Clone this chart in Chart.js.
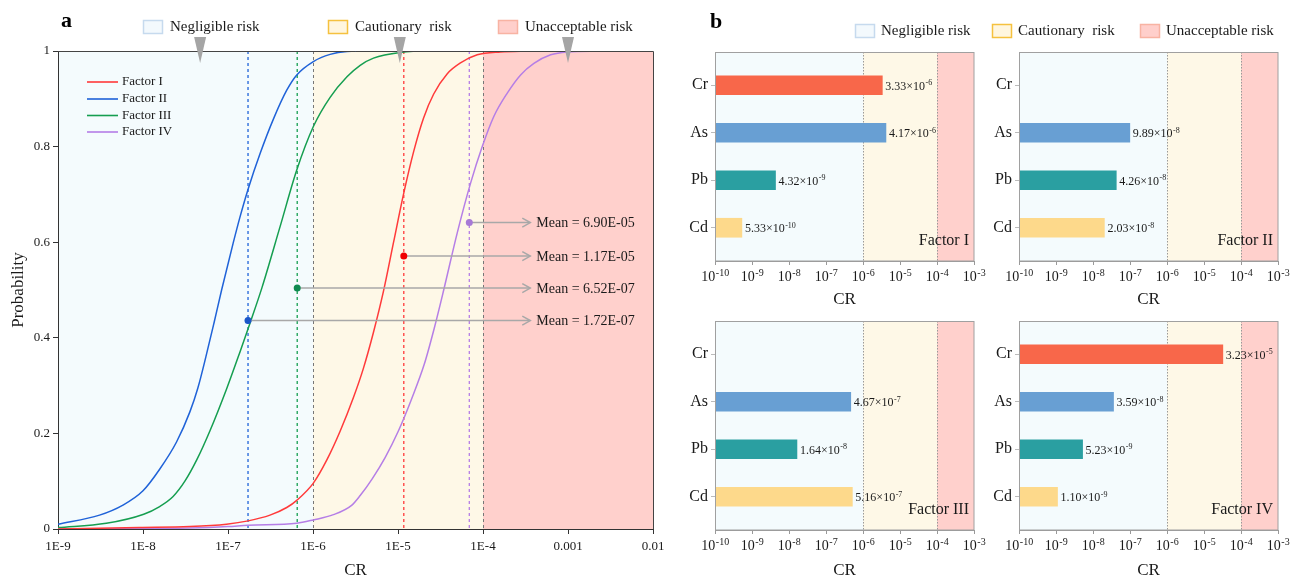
<!DOCTYPE html>
<html><head><meta charset="utf-8">
<script src="https://cdn.jsdelivr.net/npm/chart.js@4.4.1/dist/chart.umd.min.js"></script>
<style>
html,body{margin:0;padding:0;background:#fff;}
#wrap{position:relative;width:1293px;height:581px;overflow:hidden;background:#fff;}
canvas{position:absolute;}
</style></head><body>
<div id="wrap">
<canvas id="ca" width="1293" height="581" style="left:0;top:0"></canvas>
<canvas id="b1" width="360" height="285" style="left:640px;top:25px"></canvas>
<canvas id="b2" width="333" height="285" style="left:960px;top:25px"></canvas>
<canvas id="b3" width="360" height="281" style="left:640px;top:300px"></canvas>
<canvas id="b4" width="333" height="281" style="left:960px;top:300px"></canvas>
</div>
<script>
// ---------- DATA ----------
const factorNames = ['Factor I', 'Factor II', 'Factor III', 'Factor IV'];
// Panel a: cumulative probability curves (CR value, probability)
const f1CR = [1.0e-9, 9.1e-9, 3.56e-8, 9.6e-8, 1.73e-7, 3.12e-7, 4.91e-7, 6.44e-7, 1.01e-6, 1.46e-6, 2.09e-6, 2.99e-6, 3.9e-6, 5.12e-6, 6.76e-6, 8.87e-6, 1.16e-5, 1.53e-5, 2.0e-5, 2.63e-5, 3.78e-5, 5.43e-5, 8.55e-5, 1.61e-4, 3.63e-4];
const f1P  = [0.000, 0.003, 0.005, 0.010, 0.017, 0.029, 0.045, 0.060, 0.096, 0.145, 0.205, 0.275, 0.335, 0.410, 0.498, 0.600, 0.700, 0.790, 0.860, 0.910, 0.952, 0.975, 0.992, 0.998, 1.000];
const f2CR = [1.0e-9, 3.08e-9, 5.81e-9, 1.0e-8, 1.57e-8, 2.48e-8, 3.56e-8, 4.42e-8, 5.49e-8, 6.82e-8, 8.41e-8, 1.15e-7, 1.38e-7, 1.73e-7, 2.38e-7, 3.41e-7, 4.91e-7, 6.44e-7, 1.01e-6, 1.59e-6, 2.51e-6, 4.71e-6, 1.0e-5];
const f2P  = [0.010, 0.029, 0.050, 0.080, 0.125, 0.182, 0.245, 0.295, 0.360, 0.430, 0.500, 0.598, 0.652, 0.712, 0.785, 0.857, 0.918, 0.950, 0.978, 0.993, 0.999, 1.000, 1.000];
const f3CR = [1.0e-9, 3.7e-9, 1.02e-8, 1.57e-8, 2.26e-8, 3.11e-8, 4.3e-8, 6.12e-8, 9.62e-8, 1.38e-7, 1.81e-7, 2.51e-7, 4.09e-7, 6.44e-7, 1.01e-6, 1.59e-6, 2.51e-6, 3.59e-6, 5.15e-6, 1.06e-5, 2.4e-5, 1.0e-4];
const f3P  = [0.003, 0.012, 0.031, 0.047, 0.068, 0.100, 0.145, 0.205, 0.293, 0.370, 0.430, 0.505, 0.632, 0.751, 0.842, 0.903, 0.946, 0.970, 0.985, 0.997, 1.000, 1.000];
const f4CR = [1.0e-9, 3.56e-8, 9.98e-8, 1.73e-7, 6.44e-7, 1.01e-6, 1.74e-6, 2.87e-6, 3.59e-6, 4.97e-6, 7.08e-6, 1.01e-5, 1.43e-5, 2.04e-5, 2.67e-5, 3.45e-5, 4.97e-5, 7.13e-5, 9.8e-5, 1.34e-4, 1.93e-4, 2.77e-4, 3.97e-4, 6.25e-4, 9.84e-4, 2.43e-3];
const f4P  = [0.000, 0.002, 0.005, 0.008, 0.012, 0.019, 0.030, 0.050, 0.070, 0.105, 0.150, 0.205, 0.270, 0.345, 0.420, 0.500, 0.619, 0.723, 0.800, 0.863, 0.912, 0.950, 0.974, 0.992, 0.998, 1.000];
const meanCR = [1.17e-5, 1.72e-7, 6.52e-7, 6.90e-5];
const meanText = ['Mean = 1.17E-05', 'Mean = 1.72E-07', 'Mean = 6.52E-07', 'Mean = 6.90E-05'];
const meanMarkP = [0.571, 0.436, 0.504, 0.641];
const xTicksA = [1e-9, 1e-8, 1e-7, 1e-6, 1e-5, 1e-4, 1e-3, 1e-2];
const xTickLabelsA = ['1E-9', '1E-8', '1E-7', '1E-6', '1E-5', '1E-4', '0.001', '0.01'];
const riskBounds = [1e-6, 1e-4];
const riskNames = ['Negligible risk', 'Cautionary  risk', 'Unacceptable risk'];
// Panel b: CR per element and factor
const elements = ['Cr', 'As', 'Pb', 'Cd'];
const crFactorI   = [3.33e-6, 4.17e-6, 4.32e-9, 5.33e-10];
const crFactorII  = [null, 9.89e-8, 4.26e-8, 2.03e-8];
const crFactorIII = [null, 4.67e-7, 1.64e-8, 5.16e-7];
const crFactorIV  = [3.23e-5, 3.59e-8, 5.23e-9, 1.10e-9];
const xTicksB = [1e-10, 1e-9, 1e-8, 1e-7, 1e-6, 1e-5, 1e-4, 1e-3];

// ---------- STYLE ----------
const F = '"Liberation Serif", "Times New Roman", serif';
const TXT = '#1a1a1a';
const factorColors = ['#FF3A3A', '#1F62D8', '#159E50', '#B57EE6'];
const dotColors = ['#F00000', '#1A56C8', '#0E8A50', '#A77AD6'];
const bandColors = ['#F4FBFD', '#FEF8E7', '#FFD0CC'];
const swatchStroke = ['#C6DAEE', '#F5C13F', '#F8B3A3'];
const swatchFill = ['#F3F9FD', '#FFF6DF', '#FFCFCB'];
const elementColors = ['#F8674A', '#689FD3', '#2A9FA1', '#FDD98B'];

function fillBands(chart) {
  const {ctx, chartArea: a, scales: {x}} = chart;
  const x1 = x.getPixelForValue(riskBounds[0]), x2 = x.getPixelForValue(riskBounds[1]);
  ctx.save();
  ctx.fillStyle = bandColors[0]; ctx.fillRect(a.left, a.top, x1 - a.left, a.bottom - a.top);
  ctx.fillStyle = bandColors[1]; ctx.fillRect(x1, a.top, x2 - x1, a.bottom - a.top);
  ctx.fillStyle = bandColors[2]; ctx.fillRect(x2, a.top, a.right - x2, a.bottom - a.top);
  ctx.restore();
}
function vline(ctx, x, y1, y2) { ctx.beginPath(); ctx.moveTo(x, y1); ctx.lineTo(x, y2); ctx.stroke(); }
function headerLegend(ctx, xs, yc, gap) {
  ctx.save();
  ctx.font = '15px ' + F; ctx.textBaseline = 'middle'; ctx.fillStyle = TXT;
  riskNames.forEach((n, i) => {
    ctx.fillStyle = swatchFill[i]; ctx.fillRect(xs[i], yc - 7, 20, 14);
    ctx.strokeStyle = swatchStroke[i]; ctx.lineWidth = 1.5; ctx.strokeRect(xs[i] + 0.5, yc - 6.5, 19, 13);
    ctx.fillStyle = TXT; ctx.fillText(n, xs[i] + gap, yc);
  });
  ctx.restore();
}
// draws base text followed by a raised exponent
function drawPow(ctx, base, exp, x, y, size, align) {
  const es = Math.round(size * 0.68);
  ctx.font = size + 'px ' + F;
  const wb = ctx.measureText(base).width;
  ctx.font = es + 'px ' + F;
  const we = ctx.measureText(exp).width;
  let x0 = x;
  if (align === 'center') x0 = x - (wb + we) / 2;
  ctx.textAlign = 'left';
  ctx.font = size + 'px ' + F; ctx.fillText(base, x0, y);
  ctx.font = es + 'px ' + F; ctx.fillText(exp, x0 + wb + 0.5, y - size * 0.38);
}

// ---------- PANEL A ----------
const arrowEndCR = 3.6e-4;
const triangleCR = [4.7e-8, 1.05e-5, 1e-3];
const pluginA = {
  id: 'pa',
  beforeDraw(chart) { fillBands(chart); },
  beforeDatasetsDraw(chart) {
    const {ctx, chartArea: a, scales: {x}} = chart;
    ctx.save();
    ctx.lineWidth = 1; ctx.setLineDash([3, 3]); ctx.strokeStyle = '#777';
    riskBounds.forEach(v => vline(ctx, Math.round(x.getPixelForValue(v)) + 0.5, a.top, a.bottom));
    ctx.lineWidth = 1.3;
    meanCR.forEach((v, i) => { ctx.strokeStyle = factorColors[i]; vline(ctx, x.getPixelForValue(v), a.top, a.bottom); });
    ctx.restore();
  },
  afterDatasetsDraw(chart) {
    const {ctx, scales: {x, y}} = chart;
    const xe = x.getPixelForValue(arrowEndCR);
    ctx.save();
    meanCR.forEach((v, i) => {
      const px = x.getPixelForValue(v), py = y.getPixelForValue(meanMarkP[i]);
      ctx.strokeStyle = '#A8A8A8'; ctx.lineWidth = 1.5;
      ctx.beginPath(); ctx.moveTo(px, py); ctx.lineTo(xe, py); ctx.stroke();
      ctx.beginPath(); ctx.moveTo(xe - 8, py - 4.5); ctx.lineTo(xe, py); ctx.lineTo(xe - 8, py + 4.5); ctx.stroke();
      ctx.fillStyle = dotColors[i];
      ctx.beginPath(); ctx.arc(px, py, 3.5, 0, Math.PI * 2); ctx.fill();
      ctx.fillStyle = TXT; ctx.font = '14px ' + F; ctx.textBaseline = 'middle';
      ctx.fillText(meanText[i], xe + 6, py + 1);
    });
    ctx.restore();
  },
  afterDraw(chart) {
    const {ctx, chartArea: a, scales: {x}} = chart;
    ctx.save();
    ctx.strokeStyle = '#444'; ctx.lineWidth = 1;
    ctx.beginPath(); ctx.moveTo(a.left, a.top + 0.5); ctx.lineTo(a.right + 0.5, a.top + 0.5); ctx.lineTo(a.right + 0.5, a.bottom); ctx.stroke();
    ctx.fillStyle = '#A5A5A5';
    triangleCR.forEach(v => {
      const px = x.getPixelForValue(v);
      ctx.beginPath(); ctx.moveTo(px - 6, 37); ctx.lineTo(px + 6, 37); ctx.lineTo(px, 63); ctx.closePath(); ctx.fill();
    });
    ctx.font = '13px ' + F; ctx.textBaseline = 'middle';
    [82, 99, 115.5, 132].forEach((yy, i) => {
      ctx.strokeStyle = factorColors[i]; ctx.lineWidth = 1.6;
      ctx.beginPath(); ctx.moveTo(87, yy); ctx.lineTo(118, yy); ctx.stroke();
      ctx.fillStyle = TXT; ctx.fillText(factorNames[i], 122, yy);
    });
    ctx.font = 'bold 22px ' + F; ctx.fillStyle = '#000'; ctx.textBaseline = 'alphabetic';
    ctx.fillText('a', 61, 27);
    ctx.fillText('b', 710, 28);
    ctx.restore();
    headerLegend(ctx, [143, 328, 498], 27, 27);
    headerLegend(ctx, [855, 992, 1140], 31, 26);
  }
};

const lineDs = (i, cr, p) => ({
  label: factorNames[i], data: cr.map((v, k) => ({x: v, y: p[k]})),
  borderColor: factorColors[i], borderWidth: 1.5, pointRadius: 0,
  cubicInterpolationMode: 'monotone', fill: false
});

new Chart(document.getElementById('ca'), {
  type: 'line',
  data: {datasets: [lineDs(0, f1CR, f1P), lineDs(1, f2CR, f2P), lineDs(2, f3CR, f3P), lineDs(3, f4CR, f4P)]},
  options: {
    responsive: false, animation: false, devicePixelRatio: 1,
    layout: {padding: {top: 51, right: 640, left: 0, bottom: 0}},
    plugins: {legend: {display: false}, tooltip: {enabled: false}},
    scales: {
      x: {
        type: 'logarithmic', min: 1e-9, max: 1e-2,
        afterFit(s) { s.height = 52; },
        afterBuildTicks(s) { s.ticks = xTicksA.map(v => ({value: v})); },
        ticks: {callback: (v) => xTickLabelsA[xTicksA.indexOf(v)], autoSkip: false, maxRotation: 0, font: {family: F, size: 13}, color: TXT, padding: 5},
        grid: {drawOnChartArea: false, tickLength: 5, color: '#333'},
        border: {color: '#333', width: 1},
        title: {display: true, text: 'CR', font: {family: F, size: 17}, color: TXT, padding: {top: 1, bottom: 0}}
      },
      y: {
        min: 0, max: 1,
        afterFit(s) { s.width = 58; },
        ticks: {stepSize: 0.2, callback: v => String(Number(v.toFixed(1))), font: {family: F, size: 13}, color: TXT, padding: 3},
        grid: {drawOnChartArea: false, tickLength: 5, color: '#333'},
        border: {color: '#333', width: 1},
        title: {display: true, text: 'Probability', font: {family: F, size: 17}, color: TXT, padding: {top: 8, bottom: 0}}
      }
    }
  },
  plugins: [pluginA]
});

// ---------- PANEL B ----------
function splitCR(v) {
  const e = Math.floor(Math.log10(v) + 1e-9);
  const m = v / Math.pow(10, e);
  return [m.toFixed(2) + '×10', String(e)];
}
function makeBar(id, vals, factorLabel, pad, yW, xH, titlePad) {
  const plug = {
    id: 'pb',
    beforeDraw(chart) { fillBands(chart); },
    beforeDatasetsDraw(chart) {
      const {ctx, chartArea: a, scales: {x}} = chart;
      ctx.save(); ctx.strokeStyle = '#9a9a9a'; ctx.lineWidth = 1; ctx.setLineDash([1.5, 1.5]);
      riskBounds.forEach(v => vline(ctx, Math.round(x.getPixelForValue(v)) + 0.5, a.top, a.bottom));
      ctx.restore();
    },
    afterDatasetsDraw(chart) {
      const {ctx, chartArea: a, scales: {x}} = chart;
      ctx.save();
      ctx.fillStyle = TXT; ctx.textBaseline = 'alphabetic';
      vals.forEach((v, i) => {
        if (v == null) return;
        const bar = chart.getDatasetMeta(i).data[0];
        const [b, e] = splitCR(v);
        drawPow(ctx, b, e, bar.x + 3, bar.y + 4.5, 12, 'left');
      });
      xTicksB.forEach(v => {
        drawPow(ctx, '10', String(Math.round(Math.log10(v))), x.getPixelForValue(v), a.bottom + 20, 14, 'center');
      });
      ctx.font = '16px ' + F; ctx.textAlign = 'right'; ctx.textBaseline = 'middle';
      ctx.fillText(factorLabel, a.right - 5, a.bottom - 20);
      ctx.strokeStyle = '#A0A0A0'; ctx.lineWidth = 1;
      ctx.strokeRect(a.left + 0.5, a.top + 0.5, a.right - a.left - 0.5, a.bottom - a.top - 0.5);
      ctx.restore();
    }
  };
  return new Chart(document.getElementById(id), {
    type: 'bar',
    data: {datasets: elements.map((el, i) => ({
      label: el, data: vals[i] == null ? [] : [{x: vals[i], y: i + 1}],
      backgroundColor: elementColors[i], barThickness: 19, grouped: false
    }))},
    options: {
      indexAxis: 'y', responsive: false, animation: false, devicePixelRatio: 1,
      layout: {padding: pad},
      plugins: {legend: {display: false}, tooltip: {enabled: false}},
      scales: {
        x: {
          type: 'logarithmic', min: 1e-10, max: 1e-3,
          afterFit(s) { s.height = xH; },
          afterBuildTicks(s) { s.ticks = xTicksB.map(v => ({value: v})); },
          ticks: {display: false},
          grid: {drawOnChartArea: false, tickLength: 4, color: '#999'},
          border: {color: '#999', width: 1},
          title: {display: true, text: 'CR', font: {family: F, size: 17}, color: TXT, padding: {top: titlePad, bottom: 0}}
        },
        y: {
          type: 'linear', reverse: true, min: 0.3, max: 4.7, offset: false,
          afterFit(s) { s.width = yW; },
          afterBuildTicks(s) { s.ticks = elements.map((e, i) => ({value: i + 1})); },
          ticks: {callback: v => elements[v - 1], font: {family: F, size: 16}, color: TXT, padding: 3},
          grid: {drawOnChartArea: false, offset: false, tickLength: 4, color: '#bbb'},
          border: {color: '#999', width: 1}
        }
      }
    },
    plugins: [plug]
  });
}
makeBar('b1', crFactorI, 'Factor I', {top: 27, right: 26, left: 0, bottom: 0}, 75, 49, 3);
makeBar('b2', crFactorII, 'Factor II', {top: 27, right: 15, left: 0, bottom: 0}, 59, 49, 3);
makeBar('b3', crFactorIII, 'Factor III', {top: 21, right: 26, left: 0, bottom: 0}, 75, 51, 2);
makeBar('b4', crFactorIV, 'Factor IV', {top: 21, right: 15, left: 0, bottom: 0}, 59, 51, 2);
</script>
</body></html>
